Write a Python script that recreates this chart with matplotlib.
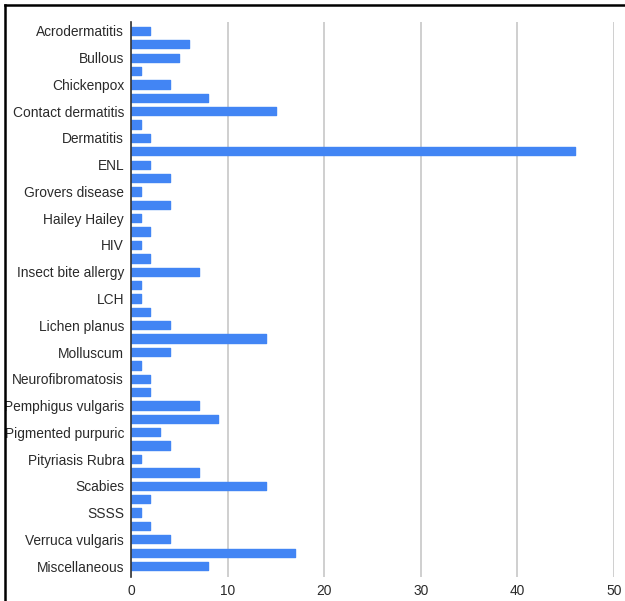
import matplotlib.pyplot as plt
from matplotlib.lines import Line2D
from matplotlib.patches import Rectangle

# Cases per diagnosis; only every second row carries a visible label
labels = ["Acrodermatitis", "Bullous", "Chickenpox", "Contact dermatitis",
          "Dermatitis", "ENL", "Grovers disease", "Hailey Hailey", "HIV",
          "Insect bite allergy", "LCH", "Lichen planus", "Molluscum",
          "Neurofibromatosis", "Pemphigus vulgaris", "Pigmented purpuric",
          "Pityriasis Rubra", "Scabies", "SSSS", "Verruca vulgaris",
          "Miscellaneous"]
counts = [2, 6, 5, 1, 4, 8, 15, 1, 2, 46, 2, 4, 1, 4, 1, 2, 1, 2, 7, 1, 1,
          2, 4, 14, 4, 1, 2, 2, 7, 9, 3, 4, 1, 7, 14, 2, 1, 2, 4, 17, 8]
x_ticks = [0, 10, 20, 30, 40, 50]

W, H = 625, 601
plt.rcParams['font.family'] = ['Liberation Sans', 'DejaVu Sans']

fig = plt.figure(figsize=(W / 100, H / 100), dpi=100)
ax = fig.add_axes([131 / W, 1 - 577 / H, 483 / W, 555 / H])

rows = list(range(len(counts)))
ax.barh(rows, counts, height=0.62, color='#4285f4', edgecolor='#4285f4',
        linewidth=1.0, joinstyle='round', zorder=3)

ax.set_xlim(0, 50)
ax.set_ylim(len(counts) - 1 + 0.82, -0.67)

ax.set_yticks(rows[::2])
ax.set_yticklabels(labels)
ax.set_xticks(x_ticks)
ax.set_xticklabels([str(t) for t in x_ticks])
ax.tick_params(axis='both', length=0, labelsize=9.9, labelcolor='#2a2a2a')
ax.tick_params(axis='y', pad=5)
ax.tick_params(axis='x', pad=5)

ax.grid(axis='x', color='#cccccc', linewidth=1.3, zorder=0)
for side in ['top', 'right', 'bottom']:
    ax.spines[side].set_visible(False)
ax.spines['left'].set_color('#333333')
ax.spines['left'].set_linewidth(1.2)
ax.spines['left'].set_zorder(4)

# frame along the top and left edges, labels past it are cut off
fig.patches.append(Rectangle((0, 0), 5 / W, 1, transform=fig.transFigure,
                             facecolor='white', edgecolor='none', zorder=10))
fig.lines.append(Line2D([5 / W, 5 / W], [0, 1 - 5 / H], transform=fig.transFigure,
                        color='black', linewidth=1.8, zorder=11))
fig.lines.append(Line2D([5 / W, 1], [1 - 5 / H, 1 - 5 / H], transform=fig.transFigure,
                        color='black', linewidth=1.8, zorder=11))

fig.savefig('out.png', dpi=100)
